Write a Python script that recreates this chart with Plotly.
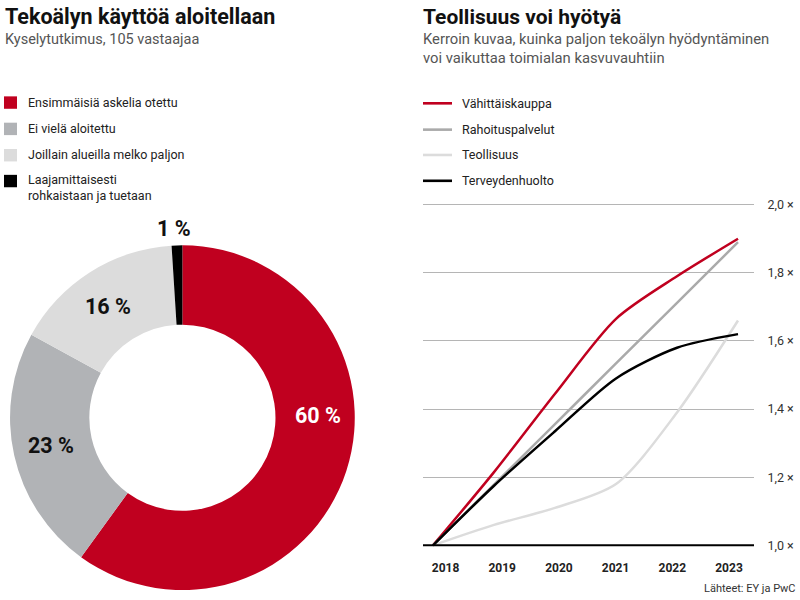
import plotly.graph_objects as go

# ---- Data ----
pie_labels = ["Ensimmäisiä askelia otettu", "Ei vielä aloitettu",
              "Joillain alueilla melko paljon", "Laajamittaisesti<br>rohkaistaan ja tuetaan"]
pie_values = [60, 23, 16, 1]
pie_colors = ["#c0001f", "#b1b3b6", "#dcdcdc", "#000000"]

years = [2018, 2019, 2020, 2021, 2022, 2023]
series_names = ["Vähittäiskauppa", "Rahoituspalvelut", "Teollisuus", "Terveydenhuolto"]
vahittais = [1.0, 1.215, 1.445, 1.665, 1.79, 1.90]
rahoitus = [1.0, 1.178, 1.356, 1.534, 1.712, 1.89]
teollisuus = [1.0, 1.06, 1.11, 1.18, 1.39, 1.66]
terveys = [1.0, 1.175, 1.335, 1.49, 1.58, 1.62]
series_values = [vahittais, rahoitus, teollisuus, terveys]
line_colors = ["#c0001f", "#aaaaaa", "#dcdcdc", "#000000"]

y_ticks = [1.0, 1.2, 1.4, 1.6, 1.8, 2.0]
y_ticktext = ["1,0 ×", "1,2 ×", "1,4 ×", "1,6 ×", "1,8 ×", "2,0 ×"]

FONT = "Roboto"
fig = go.Figure()

fig.add_trace(go.Pie(
    labels=pie_labels, values=pie_values, sort=False, direction="clockwise",
    rotation=0, hole=0.54, marker=dict(colors=pie_colors, line=dict(width=0)),
    textinfo="none", hoverinfo="label+value", showlegend=False,
    domain=dict(x=[0.01, 0.446], y=[0.0133, 0.5917]),
))

for name, vals, col in zip(series_names, series_values, line_colors):
    fig.add_trace(go.Scatter(
        x=years, y=vals, mode="lines", name=name,
        line=dict(color=col, width=2.5, shape="spline", smoothing=0.8),
        showlegend=False, xaxis="x", yaxis="y",
    ))
# invisible trace for year-label axis
fig.add_trace(go.Scatter(x=years, y=[None] * len(years), xaxis="x2", yaxis="y",
                         showlegend=False, hoverinfo="skip"))

fig.update_layout(
    width=800, height=600, margin=dict(l=0, r=0, t=0, b=0),
    paper_bgcolor="white", plot_bgcolor="white",
    font=dict(family=FONT, color="#222"),
    xaxis=dict(domain=[0.52875, 0.9425], range=[2017.836, 2023.262],
               showgrid=False, zeroline=False, showticklabels=False, showline=False),
    xaxis2=dict(domain=[0.52875, 0.9425], range=[2017.603, 2023.441],
                overlaying="x", anchor="y", side="bottom",
                tickvals=years, ticktext=[str(y) for y in years],
                showgrid=False, zeroline=False, showline=False,
                ticks="outside", ticklen=6, tickcolor="rgba(0,0,0,0)",
                tickfont=dict(family=FONT, size=12, color="#222", weight="bold")),
    yaxis=dict(domain=[0.0798, 0.6685], range=[0.985, 2.015], side="right",
               tickvals=y_ticks, ticktext=y_ticktext,
               showgrid=True, gridcolor="#b5b5b5", gridwidth=1,
               zeroline=False, showline=False, ticks="outside", ticklen=10,
               tickcolor="rgba(0,0,0,0)",
               tickfont=dict(family=FONT, size=12.5, color="#333")),
)

shapes = []
# baseline
shapes.append(dict(type="line", xref="x domain", yref="y", x0=0, x1=1, y0=1.0, y1=1.0,
                   line=dict(color="black", width=2), layer="above"))

ann = []
# Titles
ann.append(dict(x=3/800, y=1-15/600, text="<b>Tekoälyn käyttöä aloitellaan</b>",
                font=dict(size=21.5, color="#111")))
ann.append(dict(x=3/800, y=1-38/600, text="Kyselytutkimus, 105 vastaajaa",
                font=dict(size=14.5, color="#555")))
ann.append(dict(x=421/800, y=1-15/600, text="<b>Teollisuus voi hyötyä</b>",
                font=dict(size=21, color="#111")))
ann.append(dict(x=421/800, y=1-46.5/600,
                text="Kerroin kuvaa, kuinka paljon tekoälyn hyödyntäminen<br>voi vaikuttaa toimialan kasvuvauhtiin",
                font=dict(size=14.8, color="#555"), align="left"))
ann.append(dict(x=798/800, y=1-590/600, xanchor="right",
                text="Lähteet: EY ja PwC", font=dict(size=11, color="#333")))
for a in ann:
    a.setdefault("xanchor", "left")
    a.update(xref="paper", yref="paper", yanchor="middle", showarrow=False)

# Left legend (squares)
leg_y = [101, 127.5, 154, 186.5]
for lab, col, yy in zip(pie_labels, pie_colors, leg_y):
    top = yy - 6 if "<br>" not in lab else 174
    shapes.append(dict(type="rect", xref="paper", yref="paper",
                       x0=4/800, x1=17/800, y0=1-(top+12.5)/600, y1=1-top/600,
                       fillcolor=col, line=dict(width=0)))
    ann.append(dict(x=26/800, y=1-yy/600, text=lab, xref="paper", yref="paper",
                    xanchor="left", yanchor="middle", showarrow=False, align="left",
                    font=dict(size=12.5, color="#222")))

# Right legend (lines)
leg_y2 = [102, 128.5, 154, 180]
for name, col, yy in zip(series_names, line_colors, leg_y2):
    shapes.append(dict(type="line", xref="paper", yref="paper",
                       x0=423/800, x1=452/800, y0=1-yy/600, y1=1-yy/600,
                       line=dict(color=col, width=2.6)))
    ann.append(dict(x=460/800, y=1-yy/600, text=name, xref="paper", yref="paper",
                    xanchor="left", yanchor="middle", showarrow=False,
                    font=dict(size=12.5, color="#222")))

# Donut value labels
lab_pos = [(317.5, 416, "white"), (51, 446, "#111"), (108, 307, "#111"), (173.5, 228, "#111")]
for v, (px, py, c) in zip(pie_values, lab_pos):
    ann.append(dict(x=px/800, y=1-py/600, text=f"<b>{v} %</b>", xref="paper", yref="paper",
                    xanchor="center", yanchor="middle", showarrow=False,
                    font=dict(size=21.5, color=c)))

fig.update_layout(annotations=ann, shapes=shapes)
fig.write_html("out.html", config={"displayModeBar": False},
               post_script="document.body.style.margin='0';document.body.style.padding='0';")
